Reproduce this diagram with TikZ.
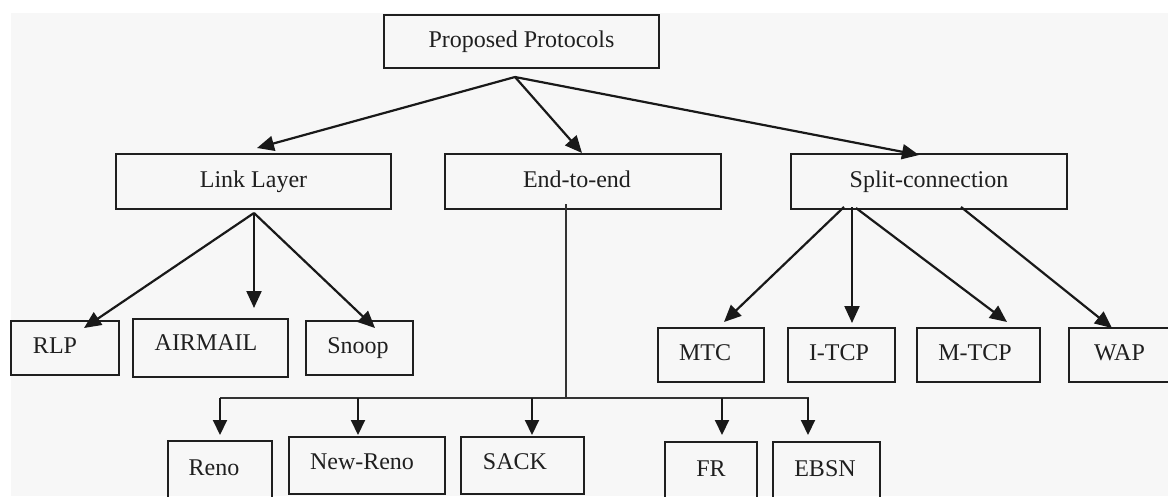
\documentclass[tikz,border=0pt]{standalone}
\usepackage{fontspec}
\setmainfont{Liberation Serif}
\usetikzlibrary{arrows.meta}
\newcommand{\txs}[2]{\makebox[0pt]{\hspace*{#1}#2}}
\tikzset{
  box/.style={draw=black!88, line width=1.9pt, inner sep=0pt,
    font=\fontsize{24}{28}\selectfont, text=black!88,
    text height=16pt, text depth=5pt},
  arr/.style={draw=black!90, line width=2.2pt, -{Triangle[length=17pt,width=15pt]}},
  varr/.style={draw=black!90, line width=2pt, -{Triangle[length=15pt,width=14pt]}},
  thinl/.style={draw=black!80, line width=1.4pt}
}
\begin{document}
\begin{tikzpicture}[x=1pt,y=-1pt]
\clip (0,0) rectangle (1168,496);
\fill[white] (0,0) rectangle (1168,496);
\fill[black!3] (11,13) rectangle (1168,496);

% level 0
\node[box, minimum width=275pt, minimum height=53pt] (pp) at (521.5,41.5) {Proposed Protocols};
% level 1
\node[box, minimum width=275pt, minimum height=55pt] (ll) at (253.5,181.5) {Link Layer};
\node[box, minimum width=276pt, minimum height=55pt] (ee) at (583,181.5) {\txs{-12pt}{End-to-end}};
\node[box, minimum width=276pt, minimum height=55pt] (sc) at (929,181.5) {Split-connection};
% link layer children
\node[box, minimum width=108pt, minimum height=54pt] (rlp) at (65,348) {\txs{-20pt}{RLP}};
\node[box, minimum width=155pt, minimum height=58pt] (air) at (210.5,348) {\txs{-9pt}{\raisebox{3pt}{AIRMAIL}}};
\node[box, minimum width=107pt, minimum height=54pt] (snp) at (359.5,348) {\txs{-3pt}{Snoop}};
% split-connection children
\node[box, minimum width=106pt, minimum height=54pt] (mtc) at (711,355) {\txs{-12pt}{MTC}};
\node[box, minimum width=107pt, minimum height=54pt] (itcp) at (841.5,355) {\txs{-5pt}{I-TCP}};
\node[box, minimum width=123pt, minimum height=54pt] (mtcp) at (978.5,355) {\txs{-7pt}{M-TCP}};
\node[box, minimum width=101pt, minimum height=54pt] (wap) at (1119.5,355) {WAP};
% end-to-end children
\node[box, minimum width=104pt, minimum height=57pt] (reno) at (220,469.5) {\txs{-12pt}{Reno}};
\node[box, minimum width=156pt, minimum height=57pt] (nreno) at (367,465.5) {\txs{-10pt}{\raisebox{2pt}{New-Reno}}};
\node[box, minimum width=123pt, minimum height=57pt] (sack) at (522.5,465.5) {\txs{-15pt}{\raisebox{2pt}{SACK}}};
\node[box, minimum width=92pt, minimum height=57pt] (fr) at (711,470.5) {FR};
\node[box, minimum width=107pt, minimum height=57pt] (ebsn) at (826.5,470.5) {\txs{-3pt}{EBSN}};

% connector coordinates
\coordinate (pp-o) at (515,77);
\coordinate (ll-in) at (257,148);
\coordinate (ee-in) at (582,153);
\coordinate (sc-in) at (919,155);
\coordinate (ll-o) at (254,213);
\coordinate (rlp-in) at (84,328);
\coordinate (air-in) at (254,308);
\coordinate (snp-in) at (375,328);
\coordinate (ee-o) at (566,204);
\coordinate (ee-j) at (566,398);
\coordinate (bus-l) at (220,398);
\coordinate (bus-r) at (809,398);
\coordinate (reno-in) at (220,435);
\coordinate (nreno-in) at (358,435);
\coordinate (sack-in) at (532,435);
\coordinate (fr-in) at (722,435);
\coordinate (ebsn-in) at (808,435);
\coordinate (sc-o1) at (844,207);
\coordinate (sc-o2) at (852,207);
\coordinate (sc-o3) at (856,208);
\coordinate (sc-o4) at (961,207);
\coordinate (mtc-in) at (724,322);
\coordinate (itcp-in) at (852,323);
\coordinate (mtcp-in) at (1007,322);
\coordinate (wap-in) at (1112,328);

% level 0 -> level 1
\draw[arr] (pp-o) -- (ll-in);
\draw[arr] (pp-o) -- (ee-in);
\draw[arr] (pp-o) -- (sc-in);
% link layer
\draw[arr] (ll-o) -- (rlp-in);
\draw[arr] (ll-o) -- (air-in);
\draw[arr] (ll-o) -- (snp-in);
% split connection
\draw[arr] (sc-o1) -- (mtc-in);
\draw[arr] (sc-o2) -- (itcp-in);
\draw[arr] (sc-o3) -- (mtcp-in);
\draw[arr] (sc-o4) -- (wap-in);
% end-to-end bus
\draw[thinl] (ee-o) -- (ee-j);
\draw[thinl] (bus-l) -- (bus-r);
\draw[varr] (bus-l) -- (reno-in);
\draw[varr] (nreno-in |- ee-j) -- (nreno-in);
\draw[varr] (sack-in |- ee-j) -- (sack-in);
\draw[varr] (fr-in |- ee-j) -- (fr-in);
\draw[varr] (ebsn-in |- ee-j) -- (ebsn-in);
\end{tikzpicture}
\end{document}
